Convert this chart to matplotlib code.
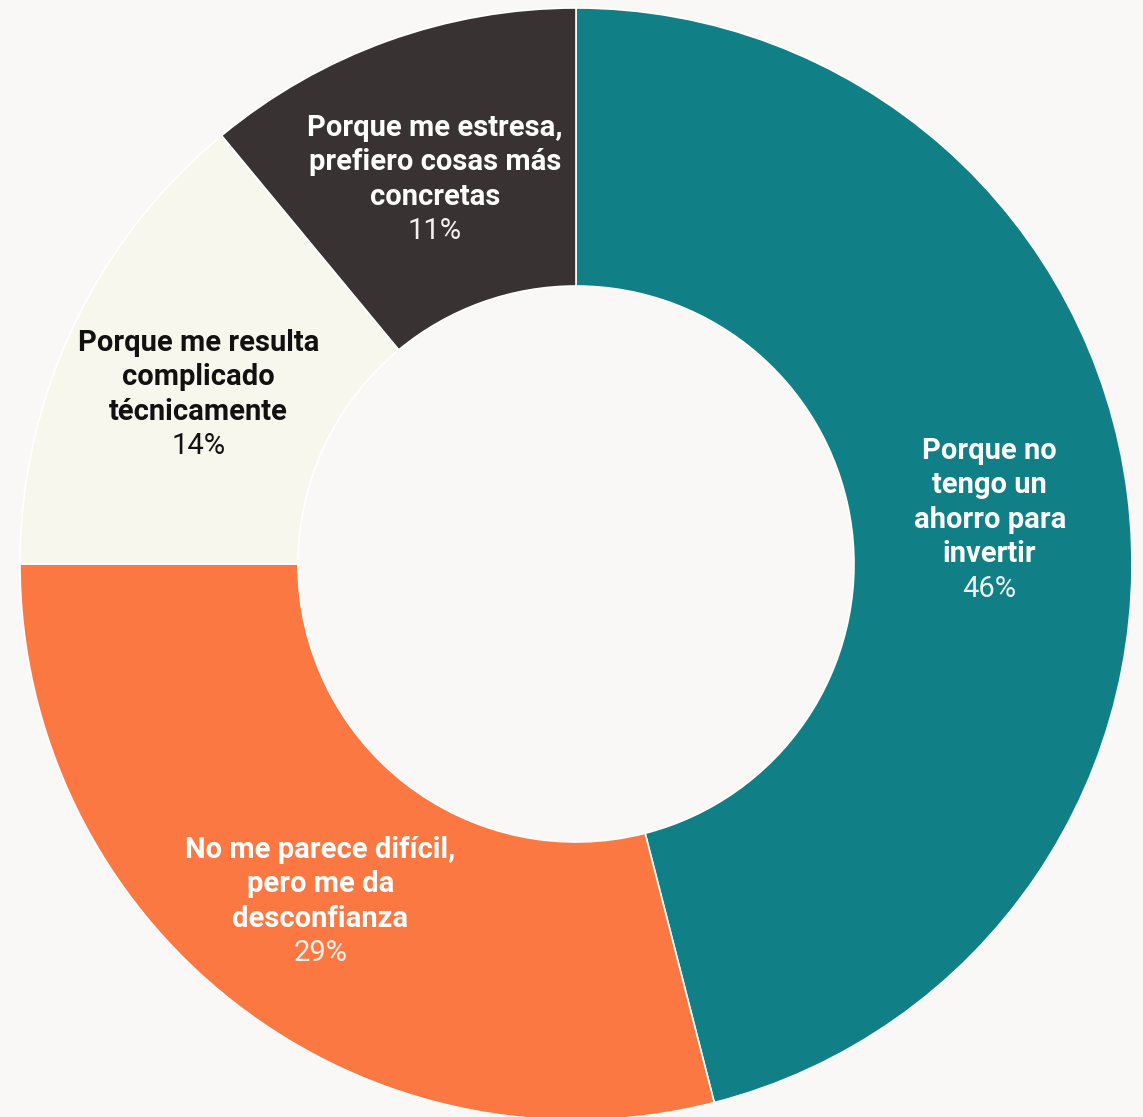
import numpy as np
import matplotlib
matplotlib.use("Agg")
import matplotlib.pyplot as plt

plt.rcParams['font.family'] = ['Roboto', 'DejaVu Sans']

# data
labels = [
    "Porque no\ntengo un\nahorro para\ninvertir",
    "No me parece difícil,\npero me da\ndesconfianza",
    "Porque me resulta\ncomplicado\ntécnicamente",
    "Porque me estresa,\nprefiero cosas más\nconcretas",
]
values = [46, 29, 14, 11]
colors = ["#107F86", "#FB7843", "#F7F7EE", "#393233"]
text_colors = ["white", "white", "#111111", "white"]
pct_colors = ["#EEF4F4", "#FFF3EC", "#111111", "#F2F0F0"]

W, H = 1143, 1117
bg = "#F9F8F6"

fig = plt.figure(figsize=(W / 100, H / 100), dpi=100, facecolor=bg)
ax = fig.add_axes([0, 0, 1, 1])
ax.set_facecolor(bg)

cx, cy = 576, H - 564
R = 556
ring = 278

wedges, _ = ax.pie(values, colors=colors, startangle=90, counterclock=False,
                   radius=R, center=(cx, cy),
                   wedgeprops=dict(width=ring, edgecolor="white", linewidth=1.2))

ax.set_xlim(0, W)
ax.set_ylim(0, H)
ax.set_aspect("equal")
ax.axis("off")

line_h = 34.5
r_mid = R - ring / 2
for w, lab, v, tc, pc in zip(wedges, labels, values, text_colors, pct_colors):
    ang = np.deg2rad((w.theta1 + w.theta2) / 2)
    x = cx + r_mid * np.cos(ang)
    y = cy + r_mid * np.sin(ang) - 8
    lines = lab.split("\n")
    n = len(lines) + 1
    top = y + (n - 1) * line_h / 2
    for i, ln in enumerate(lines):
        ax.text(x, top - i * line_h, ln, ha="center", va="center",
                fontsize=21, fontweight="bold", color=tc)
    ax.text(x, top - len(lines) * line_h, f"{v}%", ha="center", va="center",
            fontsize=21, fontweight="normal", color=pc)

fig.savefig("out.png", dpi=100, facecolor=bg)
